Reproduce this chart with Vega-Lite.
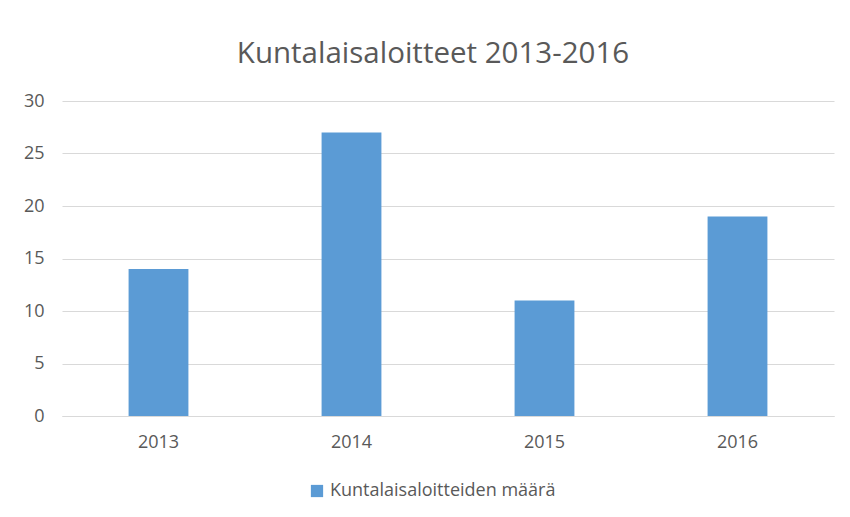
{
  "$schema": "https://vega.github.io/schema/vega-lite/v6.json",
  "width": 772,
  "height": 315,
  "autosize": {"type": "none"},
  "padding": {"left": 62, "top": 101, "right": 16, "bottom": 101},
  "background": "white",
  "data": {"values": [
    {"Vuosi": "2013", "Sarja": "Kuntalaisaloitteiden määrä", "Määrä": 14},
    {"Vuosi": "2014", "Sarja": "Kuntalaisaloitteiden määrä", "Määrä": 27},
    {"Vuosi": "2015", "Sarja": "Kuntalaisaloitteiden määrä", "Määrä": 11},
    {"Vuosi": "2016", "Sarja": "Kuntalaisaloitteiden määrä", "Määrä": 19}
  ]},
  "title": {
    "text": "Kuntalaisaloitteet 2013-2016",
    "font": "Open Sans",
    "fontSize": 29.5,
    "fontWeight": "normal",
    "color": "#595959",
    "anchor": "middle",
    "dx": -15,
    "offset": 23
  },
  "config": {
    "view": {"stroke": null},
    "font": "Open Sans"
  },
  "mark": {"type": "bar", "color": "#5b9bd5"},
  "encoding": {
    "x": {
      "field": "Vuosi",
      "type": "ordinal",
      "scale": {"paddingInner": 0.69, "paddingOuter": 0.345},
      "axis": {
        "title": null,
        "labelAngle": 0,
        "labelColor": "#595959",
        "labelFontSize": 18,
        "labelPadding": 17,
        "ticks": false,
        "domainColor": "#d9d9d9",
        "domainWidth": 1
      }
    },
    "y": {
      "field": "Määrä",
      "type": "quantitative",
      "scale": {"domain": [0, 30]},
      "axis": {
        "title": null,
        "values": [0, 5, 10, 15, 20, 25, 30],
        "labelColor": "#595959",
        "labelFontSize": 18,
        "labelPadding": 18,
        "ticks": false,
        "domain": false,
        "gridColor": "#d9d9d9",
        "gridWidth": 1
      }
    },
    "color": {
      "field": "Sarja",
      "type": "nominal",
      "scale": {"range": ["#5b9bd5"]},
      "legend": {
        "title": null,
        "orient": "none",
        "legendX": 246,
        "legendY": 381,
        "direction": "horizontal",
        "symbolType": "square",
        "symbolSize": 150,
        "symbolStrokeWidth": 0,
        "labelColor": "#595959",
        "labelFontSize": 18,
        "labelFont": "Open Sans",
        "labelLimit": 400,
        "labelOffset": 4
      }
    }
  }
}
